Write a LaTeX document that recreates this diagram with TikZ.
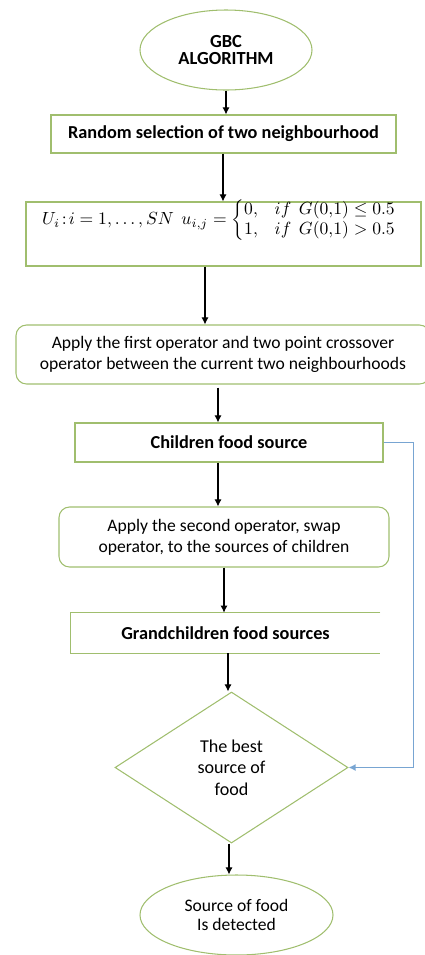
\documentclass[tikz,border=0pt]{standalone}
\usepackage{amsmath,amssymb}
\usepackage{fontspec}
\setmainfont{Carlito}
\usetikzlibrary{arrows.meta,shapes.geometric}
\definecolor{boxgreen}{RGB}{160,190,110}
\definecolor{loopblue}{RGB}{120,165,210}

\begin{document}
\begin{tikzpicture}[>={Latex[length=4pt,width=4pt]}, font=\fontsize{10}{12}\selectfont,
    flowbox/.style={draw=boxgreen, line width=0.6pt, inner sep=0pt, align=center},
    roundbox/.style={flowbox, rounded corners=6pt},
    boldtext/.style={font=\fontsize{10.4}{12}\selectfont\bfseries},
    terminal/.style={ellipse, draw=boxgreen, line width=0.6pt, inner sep=0pt, align=center},
    decision/.style={diamond, aspect=1.55, draw=boxgreen, line width=0.6pt, inner sep=0pt, align=center},
    arr/.style={->, line width=0.6pt}]
  \useasboundingbox (0,0) rectangle (8.5,-19.1);
  \clip (0,0) rectangle (8.5,-19.1);
  % terminals
  \node[terminal, minimum width=3.44cm, minimum height=1.6cm,
        font=\fontsize{10.5}{10}\selectfont\bfseries] (start) at (4.52,-1.00) {GBC\\ALGORITHM};
  \node[terminal, minimum width=3.86cm, minimum height=1.6cm,
        font=\fontsize{10}{11}\selectfont] (done) at (4.73,-18.30) {Source of food\\Is detected};
  % process boxes
  \node[flowbox, boldtext, minimum width=6.9cm, minimum height=0.76cm]
        (sel) at (4.47,-2.68) {Random selection of two neighbourhood};
  \node[flowbox, minimum width=7.9cm, minimum height=1.28cm] (eq) at (4.47,-4.68) {};
  \node[font=\fontsize{9.6}{11}\selectfont] (eqtext) at (4.39,-4.40)
        {$U_i\!:\!i=1,\ldots,SN\ \ u_{i,j}=\begin{cases}0, & if\ \ G(0{,}1)\le 0.5\\[-2pt]
         1, & if\ \ G(0{,}1)>0.5\end{cases}$};
  \node[roundbox, minimum width=8.28cm, minimum height=1.18cm] (cross) at (4.46,-7.09)
        {Apply the first operator and two point crossover\\operator between the current two neighbourhoods};
  \node[flowbox, boldtext, minimum width=6.16cm, minimum height=0.78cm]
        (child) at (4.58,-8.85) {Children food source};
  \node[roundbox, minimum width=6.6cm, minimum height=1.2cm] (swap) at (4.48,-10.74)
        {Apply the second operator, swap\\operator, to the sources of children};
  \node[boldtext, minimum width=6.18cm, minimum height=0.8cm, inner sep=0pt]
        (grand) at (4.51,-12.66) {Grandchildren food sources};
  \draw[draw=boxgreen, line width=0.6pt] (grand.north east) -- (grand.north west)
        -- (grand.south west) -- (grand.south east);
  % decision
  \node[decision, minimum width=4.66cm, minimum height=3.02cm,
        font=\fontsize{10.3}{12.2}\selectfont] (best) at (4.63,-15.35) {The best\\source of\\food};
  % flow
  \draw[arr] (start.south) -- (start.south |- sel.north);
  \draw[arr] ([xshift=-0.01cm]sel.south) -- ([xshift=-0.01cm]sel.south |- eq.north);
  \draw[arr] ([xshift=-0.37cm]eq.south) -- ([xshift=-0.37cm]eq.south |- cross.north);
  \draw[arr] ([xshift=-0.10cm,yshift=-0.06cm]cross.south) -- ([xshift=-0.10cm]cross.south |- child.north);
  \draw[arr] ([xshift=-0.22cm]child.south) -- ([xshift=-0.22cm]child.south |- swap.north);
  \draw[arr] (swap.south) -- (swap.south |- grand.north);
  \draw[arr] ([xshift=0.05cm]grand.south) -- ([xshift=0.05cm]grand.south |- best.north);
  \draw[arr] ([xshift=-0.05cm]best.south) -- ([xshift=-0.05cm]best.south |- done.north);
  % feedback to decision
  \draw[->, draw=loopblue, line width=0.8pt] (child.east) -- ++(0.6,0) |- (best.east);
\end{tikzpicture}
\end{document}
